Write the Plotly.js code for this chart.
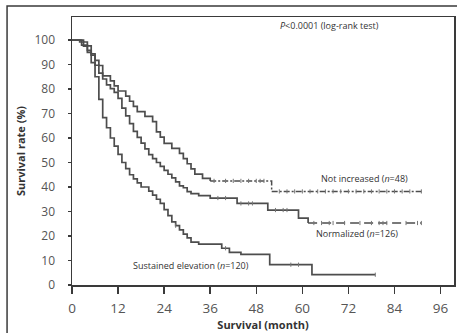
<!DOCTYPE html>
<html>
<head>
<meta charset="utf-8">
<script src="https://cdn.plot.ly/plotly-3.0.1.min.js"></script>
<style>html,body{margin:0;padding:0;background:#fff;}#chart{width:457px;height:333px;}</style>
</head>
<body>
<div id="chart"></div>
<script>
// Kaplan-Meier step data (month, survival %)
var notIncT = [0,2.5,4,5,6,7,8,10,11,12,14,15,16,17,19,21,22,23,24,26,28,29,30,31,32,34,36,52,91];
var notIncS = [100,97.9,95.8,93.8,91.7,89.6,85.4,83.3,81.3,79.2,77.1,75,72.9,70.8,68.8,66.7,62.5,60.4,57.8,55.8,53.7,51.6,49.5,47.4,45.3,43.5,42.5,38.2,38.2];
var normT = [0,3,4,5,6,7,8,9,10,11,12,13,14,15,16,17,18,19,20,21,22,23,24,25,26,27,28,29,30,31,33,36,43,51,59,61.5,91];
var normS = [100,99.2,97.6,94.4,89.7,86.5,84.1,81.7,80.2,78.6,76.2,72.2,69,65.9,62.7,60.3,57.9,55.6,53.2,51.6,50,48.4,46.8,45.2,43.7,42.1,40.5,39.7,38.1,37.3,36.5,35.5,33.3,30.6,27.3,25.3,25.3];
var sustT = [0,2,3,4,5,6,7,8,9,10,11,12,13,14,15,16,17,18,20,21,22,23,24,25,26,27,28,29,30,31,33,39,41,44,51.5,62.5,79];
var sustS = [100,99.2,97.5,95,90.8,85,75.8,68.3,64.2,60,56.7,53.3,50,47.5,45,43.3,41.7,40,38.3,36.7,35,33.3,30.8,28.3,25.8,24.2,22.5,20.8,19.2,17.5,16.7,15,13.3,12.5,8.3,4.2,4.2];
// censored observations (month)
var notIncCens = [37,40,42,44,46,48,49,50,54,56,58,60,62,64,66,68,70,72,74,76,78,80,82,84,86,88,91];
var normCens = [38,40,44,46,47,53,55,56,63,65,67,68,71,75,78,80,81,82,87,90,91];
var sustCens = [27,40,57,59,79];
var labels = ["Not increased (<i>n</i>=48)","Normalized (<i>n</i>=126)","Sustained elevation (<i>n</i>=120)"];
var xTicks = [0,12,24,36,48,60,72,84,96];
var yTicks = [0,10,20,30,40,50,60,70,80,90,100];

var lineCol = '#4d4d4d';
function valAt(T,S,t){var v=S[0];for(var i=0;i<T.length;i++){if(T[i]<=t)v=S[i];}return v;}
function split(T,S,cut){
  var a={x:[],y:[]},b={x:[],y:[]};
  for(var i=0;i<T.length;i++){
    if(T[i]<=cut){a.x.push(T[i]);a.y.push(S[i]);}
    if(T[i]>=cut){b.x.push(T[i]);b.y.push(S[i]);}
  }
  return [a,b];
}
var traces=[];
var ni=split(notIncT,notIncS,36), nm=split(normT,normS,61.5);
traces.push({x:ni[0].x,y:ni[0].y,mode:'lines',line:{shape:'hv',color:lineCol,width:1.7}});
traces.push({x:ni[1].x,y:ni[1].y,mode:'lines',line:{shape:'hv',color:lineCol,width:1.5,dash:'6px,2px,2px,2px'}});
traces.push({x:nm[0].x,y:nm[0].y,mode:'lines',line:{shape:'hv',color:lineCol,width:1.7}});
traces.push({x:nm[1].x,y:nm[1].y,mode:'lines',line:{shape:'hv',color:lineCol,width:1.6,dash:'9px,5px'}});
traces.push({x:sustT,y:sustS,mode:'lines',line:{shape:'hv',color:lineCol,width:1.7}});
[[notIncT,notIncS,notIncCens],[normT,normS,normCens],[sustT,sustS,sustCens]].forEach(function(g){
  traces.push({x:g[2],y:g[2].map(function(t){return valAt(g[0],g[1],t);}),mode:'markers',
    marker:{symbol:'line-ns',size:3,line:{color:'#777',width:1}}});
});

var font='"Open Sans", "Liberation Sans", sans-serif';
var layout={
  width:457,height:333,
  margin:{l:72,r:3,t:17,b:48},
  paper_bgcolor:'#ffffff',plot_bgcolor:'#ffffff',
  showlegend:false,
  font:{family:font,color:'#333333'},
  xaxis:{range:[0,99.5],tickvals:xTicks,ticktext:xTicks.map(String),showgrid:false,zeroline:false,
    showline:true,mirror:true,linecolor:'#3a3a3a',linewidth:1.5,ticks:'outside',ticklen:7,tickwidth:1.5,tickcolor:'#3a3a3a',
    tickfont:{size:13.5,color:'#555'},ticklabelstandoff:3,
    title:{text:'<b>Survival (month)</b>',font:{size:11,color:'#333'},standoff:2}},
  yaxis:{range:[0,109.4],tickvals:yTicks,ticktext:yTicks.map(String),showgrid:false,zeroline:false,
    showline:true,mirror:true,linecolor:'#3a3a3a',linewidth:1.5,ticks:'outside',ticklen:3,tickwidth:1.5,tickcolor:'#3a3a3a',
    tickfont:{size:12,color:'#555'},ticklabelstandoff:10,
    title:{text:'<b>Survival rate (%)</b>',font:{size:11,color:'#333'},standoff:6}},
  annotations:[
    {x:67.2,y:106,xref:'x',yref:'y',text:'<i>P</i>&lt;0.0001 (log-rank test)',showarrow:false,font:{size:9,color:'#333'}},
    {x:76.2,y:43.3,xref:'x',yref:'y',text:labels[0],showarrow:false,font:{size:9,color:'#333'}},
    {x:74.3,y:21.2,xref:'x',yref:'y',text:labels[1],showarrow:false,font:{size:9,color:'#333'}},
    {x:31.1,y:7.8,xref:'x',yref:'y',text:labels[2],showarrow:false,font:{size:9,color:'#333'}}
  ],
  shapes:[
    {type:'path',xref:'paper',yref:'paper',path:'M -0.170 -0.3 L -0.170 1.041 L 1.05 1.041',line:{color:'#3a3a3a',width:1.5}}
  ]
};
Plotly.newPlot('chart',traces,layout,{displayModeBar:false,staticPlot:true});
</script>
</body>
</html>
